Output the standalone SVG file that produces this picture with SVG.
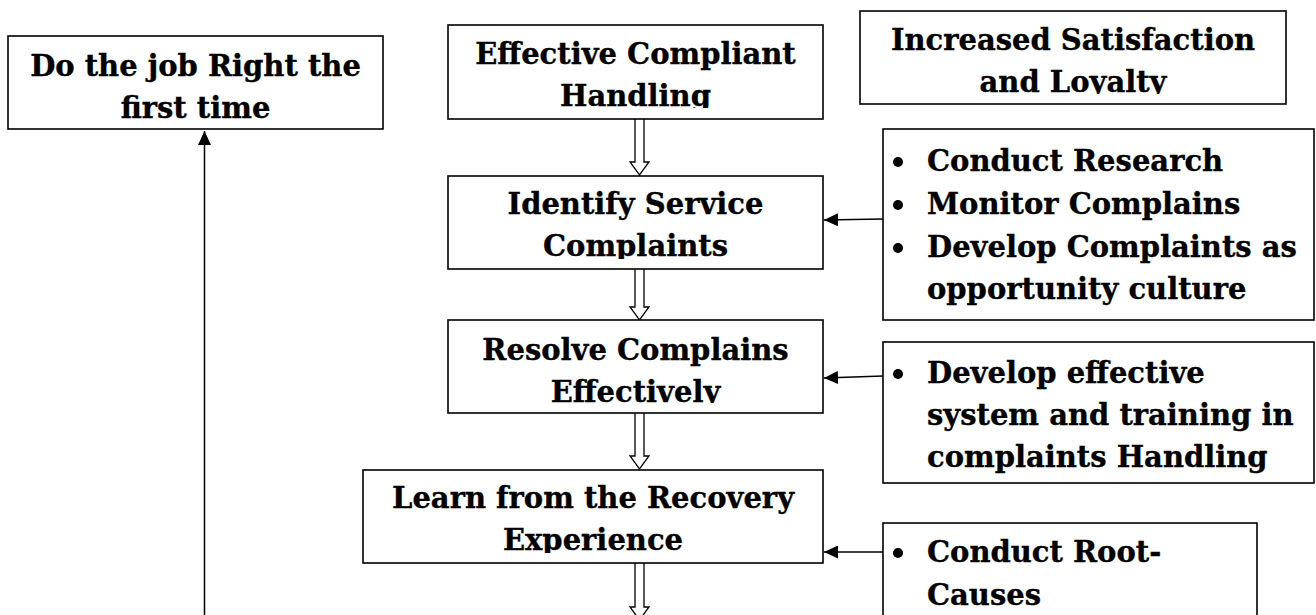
<svg xmlns="http://www.w3.org/2000/svg" width="1316" height="615" viewBox="0 0 1316 615">
<style>
.box{fill:#fff;stroke:#000;stroke-width:1.6}
.t{font-family:"DejaVu Serif","Liberation Serif",serif;font-weight:bold;font-size:29px;fill:#000;stroke:#000;stroke-width:0.35}
.c{text-anchor:middle}
.ln{stroke:#000;stroke-width:1.5;fill:none}
.hollow{fill:#fff;stroke:#000;stroke-width:1.3}
.dot{fill:#000}
</style>
<defs>
<marker id="ah" markerWidth="15" markerHeight="13" refX="14" refY="6.5" orient="auto" markerUnits="userSpaceOnUse">
<path d="M0,0 L14,6.5 L0,13 Z" fill="#000"/>
</marker>
<clipPath id="cB"><rect x="448" y="25" width="375" height="83"/></clipPath>
<clipPath id="cC"><rect x="448" y="176" width="375" height="83"/></clipPath>
<clipPath id="cD"><rect x="860" y="11" width="426" height="83"/></clipPath>
<clipPath id="cF"><rect x="448" y="320" width="375" height="83"/></clipPath>
<clipPath id="cG"><rect x="363" y="470" width="460" height="83"/></clipPath>
</defs>

<g id="connectors">
<line class="ln" x1="204.5" y1="615" x2="204.5" y2="131" marker-end="url(#ah)"/>
<line class="ln" x1="883" y1="219" x2="824" y2="220" marker-end="url(#ah)"/>
<line class="ln" x1="883" y1="376" x2="824" y2="378" marker-end="url(#ah)"/>
<line class="ln" x1="883" y1="552" x2="824" y2="552" marker-end="url(#ah)"/>
<path class="hollow" d="M635,119 V162 H630 L639.5,175 L649,162 H644 V119"/>
<path class="hollow" d="M635,269 V307 H630 L639.5,320 L649,307 H644 V269"/>
<path class="hollow" d="M635,413 V456 H630 L639.5,469 L649,456 H644 V413"/>
<path class="hollow" d="M635,563 V607 H630 L639.5,620 L649,607 H644 V563"/>
</g>

<g id="node-do-job-right">
<rect class="box" x="8" y="36" width="375" height="93"/>
<text class="t c" x="195.5" y="76">Do the job Right the</text>
<text class="t c" x="195.5" y="118">first time</text>
</g>

<g id="node-effective-handling">
<rect class="box" x="448" y="25" width="375" height="94"/>
<g clip-path="url(#cB)">
<text class="t c" x="635.5" y="64">Effective Compliant</text>
<text class="t c" x="635.5" y="106">Handling</text>
</g>
</g>

<g id="node-increased-satisfaction">
<rect class="box" x="860" y="11" width="426" height="93"/>
<g clip-path="url(#cD)">
<text class="t c" x="1073" y="50">Increased Satisfaction</text>
<text class="t c" x="1073" y="92">and Loyalty</text>
</g>
</g>

<g id="node-identify">
<rect class="box" x="448" y="176" width="375" height="93"/>
<g clip-path="url(#cC)">
<text class="t c" x="635.5" y="214">Identify Service</text>
<text class="t c" x="635.5" y="256">Complaints</text>
</g>
</g>

<g id="node-research">
<rect class="box" x="883" y="129" width="431" height="191"/>
<circle class="dot" cx="898" cy="162" r="5"/>
<circle class="dot" cx="898" cy="205" r="5"/>
<circle class="dot" cx="898" cy="248" r="5"/>
<text class="t" x="927" y="171">Conduct Research</text>
<text class="t" x="927" y="214">Monitor Complains</text>
<text class="t" x="927" y="257">Develop Complaints as</text>
<text class="t" x="927" y="299">opportunity culture</text>
</g>

<g id="node-resolve">
<rect class="box" x="448" y="320" width="375" height="93"/>
<g clip-path="url(#cF)">
<text class="t c" x="635.5" y="360">Resolve Complains</text>
<text class="t c" x="635.5" y="402">Effectively</text>
</g>
</g>

<g id="node-training">
<rect class="box" x="883" y="342" width="431" height="141"/>
<circle class="dot" cx="898" cy="374" r="5"/>
<text class="t" x="927" y="383">Develop effective</text>
<text class="t" x="927" y="425">system and training in</text>
<text class="t" x="927" y="467">complaints Handling</text>
</g>

<g id="node-learn">
<rect class="box" x="363" y="470" width="460" height="93"/>
<g clip-path="url(#cG)">
<text class="t c" x="593" y="508">Learn from the Recovery</text>
<text class="t c" x="593" y="550">Experience</text>
</g>
</g>

<g id="node-root-causes">
<rect class="box" x="883" y="523" width="374" height="110"/>
<circle class="dot" cx="898" cy="553" r="5"/>
<text class="t" x="927" y="562">Conduct Root-</text>
<text class="t" x="927" y="605">Causes</text>
</g>
</svg>
